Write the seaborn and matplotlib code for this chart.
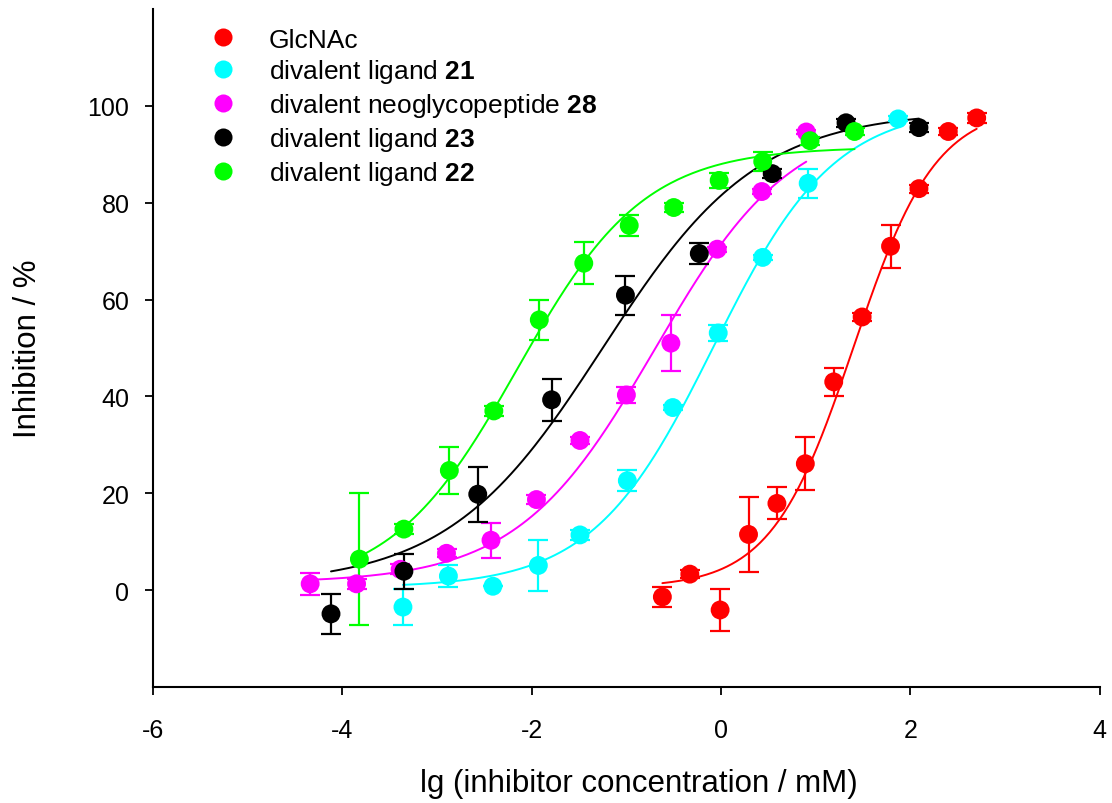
import numpy as np
import pandas as pd
import matplotlib
matplotlib.use("Agg")
import matplotlib.pyplot as plt
import seaborn as sns
from matplotlib.lines import Line2D

sns.set_theme(style="ticks")
plt.rcParams["font.family"] = ["Liberation Sans", "DejaVu Sans"]
plt.rcParams["mathtext.fontset"] = "custom"
plt.rcParams["mathtext.rm"] = "Liberation Sans"
plt.rcParams["mathtext.bf"] = "Liberation Sans:bold"
plt.rcParams["axes.unicode_minus"] = False
for key in ("text.color", "axes.labelcolor", "xtick.color", "ytick.color",
            "axes.edgecolor", "xtick.labelcolor", "ytick.labelcolor"):
    plt.rcParams[key] = "black"

# ---- measured inhibition data (x = lg concentration / mM, y = inhibition %) ----
glcnac_x = [-0.62, -0.33, -0.01, 0.29, 0.59, 0.89, 1.19, 1.49, 1.79, 2.09, 2.40, 2.70]
glcnac_y = [-1.4, 3.3, -4.1, 11.5, 17.9, 26.1, 43.0, 56.4, 71.0, 82.9, 94.7, 97.5]
glcnac_e = [2.0, 0.8, 4.4, 7.8, 3.3, 5.5, 2.9, 0.8, 4.4, 0.8, 0.8, 1.0]

l21_x = [-3.36, -2.88, -2.41, -1.93, -1.49, -0.99, -0.51, -0.03, 0.44, 0.92, 1.87]
l21_y = [-3.5, 2.9, 0.8, 5.1, 11.4, 22.6, 37.7, 53.1, 68.7, 84.0, 97.3]
l21_e = [3.7, 2.2, 0.0, 5.3, 1.0, 2.2, 0.5, 1.7, 0.5, 3.0, 0.5]

n28_x = [-4.34, -3.85, -3.39, -2.90, -2.43, -1.95, -1.49, -1.00, -0.53, -0.04, 0.43, 0.90]
n28_y = [1.3, 1.3, 4.3, 7.6, 10.3, 18.7, 30.9, 40.3, 51.0, 70.4, 82.3, 94.6]
n28_e = [2.3, 1.0, 1.0, 0.8, 3.6, 1.0, 0.8, 1.7, 5.8, 0.5, 0.5, 0.5]

l23_x = [-4.12, -3.35, -2.57, -1.79, -1.01, -0.23, 0.54, 1.32, 2.09]
l23_y = [-4.9, 3.9, 19.8, 39.3, 60.9, 69.5, 86.0, 96.5, 95.5]
l23_e = [4.2, 3.6, 5.7, 4.3, 4.0, 2.2, 1.0, 0.8, 1.0]

l22_x = [-3.82, -3.35, -2.87, -2.40, -1.92, -1.45, -0.97, -0.50, -0.02, 0.44, 0.94, 1.41]
l22_y = [6.4, 12.6, 24.7, 37.0, 55.8, 67.5, 75.3, 79.0, 84.6, 88.5, 92.8, 94.7]
l22_e = [13.6, 1.0, 4.8, 1.0, 4.2, 4.3, 2.1, 1.0, 1.5, 2.0, 0.8, 0.8]

# four-parameter logistic fit parameters: bottom, top, lg EC50, Hill slope
glcnac_fit = (0.5, 100.0, 1.40, 1.00)
l21_fit = (0.5, 100.0, -0.08, 0.68)
n28_fit = (1.5, 98.0, -0.70, 0.60)
l23_fit = (1.0, 99.0, -1.25, 0.53)
l22_fit = (0.0, 91.5, -2.15, 0.65)

names = ["GlcNAc", "divalent ligand $\\mathbf{21}$",
         "divalent neoglycopeptide $\\mathbf{28}$",
         "divalent ligand $\\mathbf{23}$", "divalent ligand $\\mathbf{22}$"]
colors = ["#ff0000", "#00ffff", "#ff00ff", "#000000", "#00ff00"]

series = [
    (glcnac_x, glcnac_y, glcnac_e, glcnac_fit),
    (l21_x, l21_y, l21_e, l21_fit),
    (n28_x, n28_y, n28_e, n28_fit),
    (l23_x, l23_y, l23_e, l23_fit),
    (l22_x, l22_y, l22_e, l22_fit),
]


def logistic(x, bottom, top, ec50, hill):
    return bottom + (top - bottom) / (1.0 + 10.0 ** ((ec50 - x) * hill))


pts = pd.concat(
    [pd.DataFrame({"x": s[0], "y": s[1], "e": s[2], "series": n})
     for s, n in zip(series, names)], ignore_index=True)

curves = []
for (xs, ys, es, fit), n in zip(series, names):
    xx = np.linspace(min(xs), max(xs), 200)
    curves.append(pd.DataFrame({"x": xx, "y": logistic(xx, *fit), "series": n}))
curves = pd.concat(curves, ignore_index=True)

fig = plt.figure(figsize=(11.12, 8.04), dpi=100)
ax = fig.add_axes([0.1376, 0.1443, 0.8514, 0.8433])

palette = dict(zip(names, colors))
sns.lineplot(data=curves, x="x", y="y", hue="series", palette=palette,
             linewidth=1.4, legend=False, ax=ax, sort=False, estimator=None)

for n, c in zip(names, colors):
    d = pts[pts["series"] == n]
    ax.errorbar(d["x"], d["y"], yerr=d["e"], fmt="none", ecolor=c,
                elinewidth=1.6, capsize=7, capthick=1.6, zorder=3)

sns.scatterplot(data=pts, x="x", y="y", hue="series", palette=palette,
                s=185, edgecolor="none", legend=False, ax=ax, zorder=4)

ax.set_xlim(-6, 4)
ax.set_ylim(-20, 120)
ax.set_xticks(np.arange(-6, 5, 2))
ax.set_yticks(np.arange(0, 101, 20))
ax.tick_params(axis="both", direction="out", length=6, width=1.3,
               labelsize=18, color="black", labelcolor="black")
ax.tick_params(axis="x", pad=16)
ax.tick_params(axis="y", pad=11)
for side in ("top", "right"):
    ax.spines[side].set_visible(False)
for side in ("left", "bottom"):
    ax.spines[side].set_linewidth(1.5)
    ax.spines[side].set_color("black")

ax.set_xlabel("lg (inhibitor concentration / mM)", fontsize=22.5)
ax.set_ylabel("Inhibition / %", fontsize=22.5)
ax.xaxis.set_label_coords(0.513, -0.119)
ax.yaxis.set_label_coords(-0.116, 0.5)

handles = [Line2D([], [], marker="o", linestyle="none", markersize=13,
                  markerfacecolor=c, markeredgecolor="none") for c in colors]
leg = ax.legend(handles, names, loc="upper left", bbox_to_anchor=(0.036, 0.988),
                frameon=False, fontsize=19, handlelength=1.95,
                handletextpad=0.75, labelspacing=0.22, borderaxespad=0.0)

fig.savefig("out.png", dpi=100)
